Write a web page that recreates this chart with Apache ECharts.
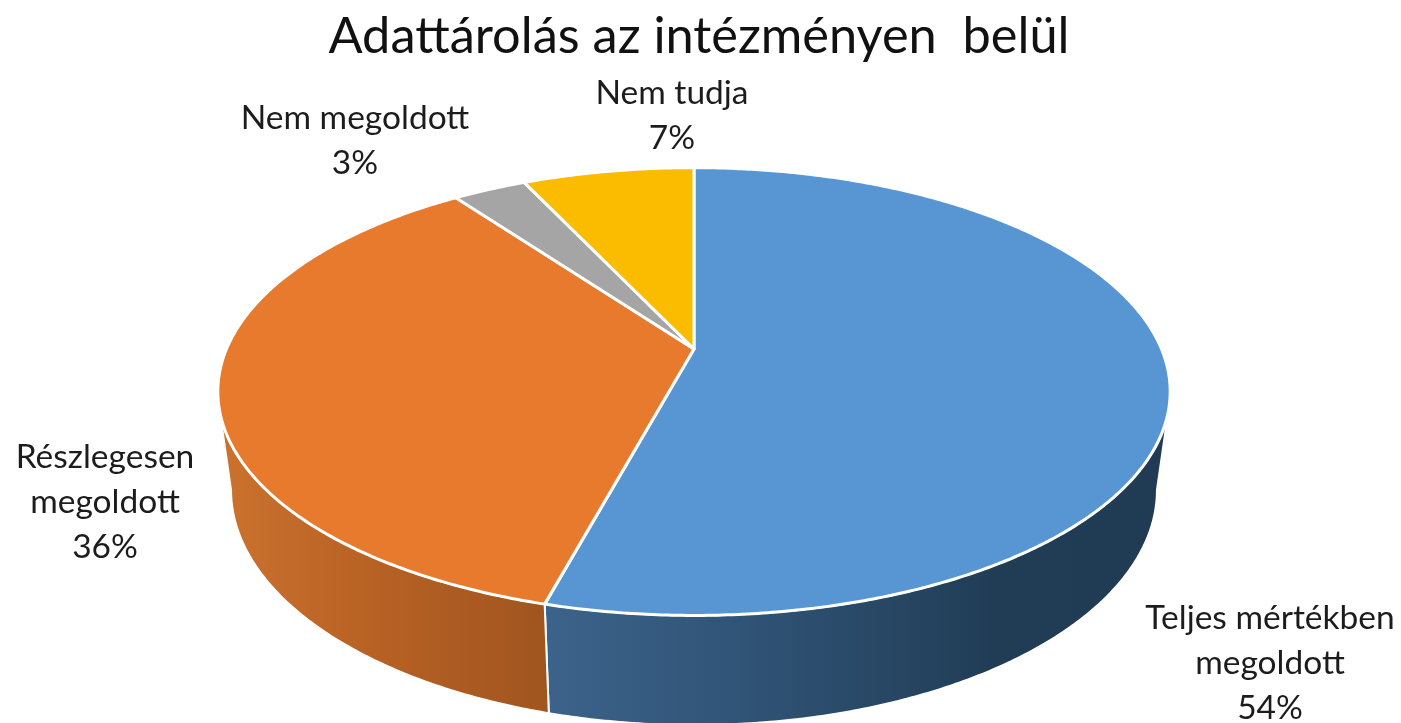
<!DOCTYPE html>
<html>
<head>
<meta charset="utf-8">
<style>html,body{margin:0;padding:0;background:#fff}#chart{width:1401px;height:723px}</style>
<script src="https://cdn.jsdelivr.net/npm/echarts@6/dist/echarts.min.js"></script>
</head>
<body>
<div id="chart"></div>
<script>
const chartTitle = 'Adattárolás az intézményen  belül';
const categories = ['Teljes mértékben\nmegoldott', 'Részlegesen\nmegoldott', 'Nem megoldott', 'Nem tudja'];
const values = [54.2, 35.8, 3, 7];
const topColors = ['#5896D3', '#E87A2E', '#A5A5A5', '#FBBC00'];
const wallStops = [
  [[0, '#3C638B'], [0.35, '#2F5274'], [0.72, '#213D56'], [1, '#203B53']],
  [[0, '#CB722D'], [0.5, '#B66024'], [1, '#A0551F']],
  null,
  null
];
const labelAnchors = [[1270, 663], [105, 502], [355, 141], [672, 116]];

const total = values.reduce((a, b) => a + b, 0);
const TOP = { cx: 694, cy: 349, a: 467.5, b: 215.8, k: -0.19 };
const BOTTOM = { cx: 694, cy: 445.4, a: 454.5, b: 226.5, k: -0.19 };
const WALL_TOP_RANGE = [106, 254];
const WALL_BOTTOM_RANGE = [101, 259];

function project(plane, deg) {
  const t = deg * Math.PI / 180, u = Math.sin(t), v = -Math.cos(t);
  const d = 1 + plane.k * v;
  return [plane.cx + plane.a * u / d, plane.cy + plane.b * v / d];
}
function arc(plane, from, to) {
  const pts = [], n = Math.max(2, Math.ceil(Math.abs(to - from) / 0.5));
  for (let i = 0; i <= n; i++) pts.push(project(plane, from + (to - from) * i / n));
  return pts;
}
function renderItem(params, api) {
  const i = params.dataIndex;
  const before = values.slice(0, i).reduce((a, b) => a + b, 0);
  const start = before / total * 360;
  const end = (before + api.value(0)) / total * 360;
  const children = [];
  if (wallStops[i]) {
    const t0 = Math.max(start, WALL_TOP_RANGE[0]), t1 = Math.min(end, WALL_TOP_RANGE[1]);
    const b0 = Math.max(start, WALL_BOTTOM_RANGE[0]), b1 = Math.min(end, WALL_BOTTOM_RANGE[1]);
    children.push({
      type: 'polygon',
      shape: { points: arc(TOP, t0, t1).concat(arc(BOTTOM, b1, b0)) },
      style: {
        fill: new echarts.graphic.LinearGradient(0, 0, 1, 0, wallStops[i].map(s => ({ offset: s[0], color: s[1] }))),
        stroke: '#fff', lineWidth: 2, lineJoin: 'round'
      }
    });
  }
  children.push({
    type: 'polygon',
    shape: { points: [[TOP.cx, TOP.cy]].concat(arc(TOP, start, end)) },
    style: { fill: topColors[i], stroke: '#fff', lineWidth: 3, lineJoin: 'round' }
  });
  return { type: 'group', children };
}
function renderLabel(params, api) {
  const i = params.dataIndex;
  return {
    type: 'text',
    x: labelAnchors[i][0], y: labelAnchors[i][1],
    style: {
      text: categories[i] + '\n' + Math.round(api.value(0)) + '%',
      font: '33.5px Lato, "Open Sans", sans-serif',
      lineHeight: 45, fill: '#1c1c1c', align: 'center', verticalAlign: 'middle'
    }
  };
}
const chart = echarts.init(document.getElementById('chart'));
chart.setOption({
  backgroundColor: '#fff',
  animation: false,
  title: {
    text: chartTitle, left: 694, top: 6, textAlign: 'center',
    textStyle: { fontFamily: 'Lato, "Open Sans", sans-serif', fontSize: 50.5, fontWeight: 'normal', color: '#111' }
  },
  series: [
    { type: 'custom', coordinateSystem: 'none', renderItem, data: values.map(v => [v]), silent: true },
    { type: 'custom', coordinateSystem: 'none', renderItem: renderLabel, data: values.map(v => [v]), silent: true, z: 5 }
  ]
});
</script>
</body>
</html>
